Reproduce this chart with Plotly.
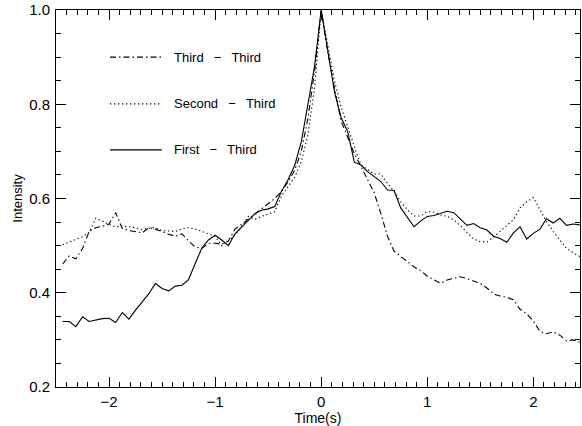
import plotly.graph_objects as go

# ---------------- data ----------------
time_s = [-2.4375, -2.375, -2.3125, -2.25, -2.1875, -2.125, -2.0625, -2.0, -1.9375, -1.875,
          -1.8125, -1.75, -1.6875, -1.625, -1.5625, -1.5, -1.4375, -1.375, -1.3125, -1.25,
          -1.1875, -1.125, -1.0625, -1.0, -0.9375, -0.875, -0.8125, -0.75, -0.6875, -0.625,
          -0.5625, -0.5, -0.4375, -0.375, -0.3125, -0.25, -0.1875, -0.125, -0.0625,
          0.0,
          0.0625, 0.125, 0.1875, 0.25, 0.3125, 0.375, 0.4375, 0.5, 0.5625, 0.625,
          0.6875, 0.75, 0.8125, 0.875, 0.9375, 1.0, 1.0625, 1.125, 1.1875, 1.25,
          1.3125, 1.375, 1.4375, 1.5, 1.5625, 1.625, 1.6875, 1.75, 1.8125, 1.875,
          1.9375, 2.0, 2.0625, 2.125, 2.1875, 2.25, 2.3125, 2.375, 2.4375]

third_third = [0.461, 0.478, 0.472, 0.494, 0.530, 0.538, 0.541, 0.546, 0.570, 0.536,
               0.532, 0.530, 0.527, 0.538, 0.535, 0.530, 0.524, 0.520, 0.525, 0.510,
               0.497, 0.494, 0.505, 0.505, 0.503, 0.510, 0.535, 0.545, 0.556, 0.567,
               0.580, 0.590, 0.600, 0.615, 0.635, 0.660, 0.700, 0.770, 0.870,
               1.000,
               0.910, 0.835, 0.765, 0.730, 0.695, 0.668, 0.640, 0.612, 0.568, 0.520,
               0.488, 0.476, 0.466, 0.455, 0.447, 0.435, 0.427, 0.420, 0.427, 0.430,
               0.434, 0.430, 0.425, 0.420, 0.410, 0.397, 0.393, 0.390, 0.385, 0.365,
               0.355, 0.340, 0.318, 0.313, 0.317, 0.310, 0.298, 0.300, 0.295]

second_third = [0.502, 0.508, 0.513, 0.519, 0.528, 0.558, 0.552, 0.545, 0.540, 0.541,
                0.540, 0.538, 0.534, 0.537, 0.538, 0.532, 0.531, 0.530, 0.535, 0.538,
                0.535, 0.530, 0.526, 0.520, 0.500, 0.510, 0.522, 0.540, 0.562, 0.556,
                0.562, 0.567, 0.572, 0.605, 0.625, 0.645, 0.678, 0.735, 0.835,
                1.000,
                0.925, 0.850, 0.795, 0.750, 0.710, 0.671, 0.662, 0.652, 0.652, 0.632,
                0.615, 0.593, 0.576, 0.563, 0.563, 0.572, 0.571, 0.565, 0.562, 0.555,
                0.542, 0.528, 0.514, 0.508, 0.508, 0.518, 0.530, 0.542, 0.555, 0.580,
                0.593, 0.602, 0.575, 0.551, 0.530, 0.512, 0.494, 0.485, 0.477]

first_third = [0.339, 0.339, 0.328, 0.349, 0.339, 0.342, 0.345, 0.346, 0.337, 0.358,
               0.344, 0.363, 0.381, 0.398, 0.420, 0.409, 0.404, 0.414, 0.416, 0.428,
               0.462, 0.495, 0.512, 0.522, 0.512, 0.500, 0.525, 0.540, 0.555, 0.568,
               0.575, 0.578, 0.583, 0.615, 0.640, 0.670, 0.720, 0.800, 0.880,
               1.000,
               0.913, 0.827, 0.772, 0.742, 0.677, 0.671, 0.657, 0.647, 0.636, 0.618,
               0.617, 0.580, 0.560, 0.540, 0.552, 0.562, 0.564, 0.569, 0.573, 0.570,
               0.556, 0.543, 0.547, 0.538, 0.533, 0.520, 0.515, 0.507, 0.527, 0.540,
               0.514, 0.526, 0.535, 0.557, 0.548, 0.558, 0.543, 0.546, 0.544]

series_names = ["Third \u2212 Third", "Second \u2212 Third", "First \u2212 Third"]
x_ticks = [-2, -1, 0, 1, 2]
y_ticks = [0.2, 0.4, 0.6, 0.8, 1.0]

# ---------------- styling ----------------
FONT = "Liberation Sans, Arial, sans-serif"
DASHDOT = "6px,3px,1.5px,3px"
DOTTED = "1.3px,2.7px"
LW = 1.1

styles = [DASHDOT, DOTTED, "solid"]
datasets = [third_third, second_third, first_third]

fig = go.Figure()
for name, ys, dash in zip(series_names, datasets, styles):
    fig.add_trace(go.Scatter(x=time_s, y=ys, mode="lines", name=name,
                             line=dict(color="black", width=LW, dash=dash),
                             showlegend=False, hoverinfo="skip"))

# hand-made legend (IDL style): sample line + label, inside the plot
leg_y = [0.875, 0.751, 0.629]
GAP = "\u2002\u00a0"
for name, dash, yy in zip(series_names, styles, leg_y):
    fig.add_shape(type="line", xref="paper", yref="paper",
                  x0=0.103, x1=0.202, y0=yy, y1=yy,
                  line=dict(color="black", width=LW, dash=dash))
    fig.add_annotation(xref="paper", yref="paper", x=0.222, y=yy,
                       text=name.replace(" ", GAP), showarrow=False,
                       xanchor="left", yanchor="middle",
                       font=dict(family=FONT, size=13, color="black"))

axis_common = dict(showgrid=False, zeroline=False, showline=True, linecolor="black",
                   linewidth=1, mirror="ticks", ticks="inside", tickcolor="black",
                   tickwidth=1, ticklen=10, automargin=False,
                   tickfont=dict(family=FONT, size=15, color="black"))

fig.update_xaxes(range=[-2.5, 2.44], tickvals=x_ticks, ticklabelstandoff=1,
                 minor=dict(dtick=0.1, tick0=0, ticks="inside", ticklen=5,
                            tickcolor="black", tickwidth=1),
                 title=dict(text="Time(s)", standoff=7,
                            font=dict(family=FONT, size=14, color="black")),
                 **axis_common)
fig.update_yaxes(range=[0.2, 1.0], tickvals=y_ticks, tickformat=".1f",
                 ticklabelstandoff=2,
                 minor=dict(dtick=0.05, tick0=0, ticks="inside", ticklen=5,
                            tickcolor="black", tickwidth=1),
                 title=dict(text="Intensity", standoff=3,
                            font=dict(family=FONT, size=13, color="black")),
                 **axis_common)

fig.update_layout(width=582, height=426,
                  margin=dict(l=56, r=2, t=10, b=39, pad=0),
                  paper_bgcolor="white", plot_bgcolor="white",
                  font=dict(family=FONT, color="black"), hovermode=False)

fig.write_html("out.html", config={"displayModeBar": False, "staticPlot": True},
               post_script="document.body.style.margin='0';document.body.style.padding='0';")
